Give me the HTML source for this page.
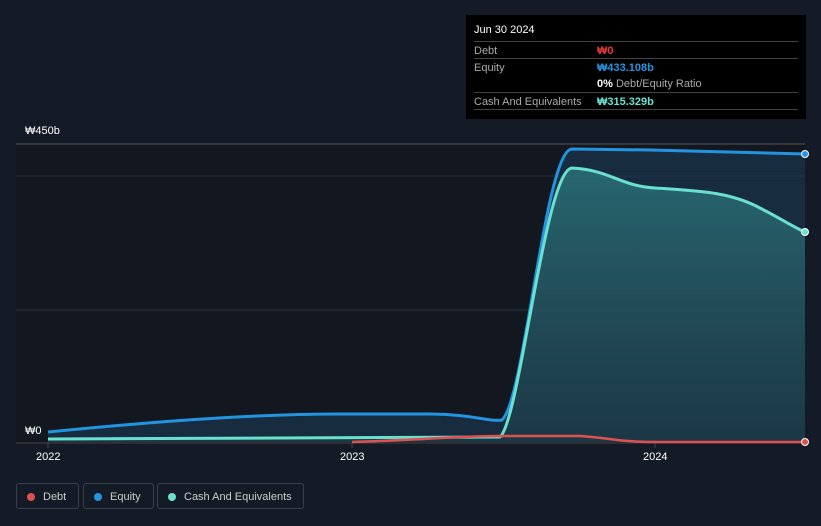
<!DOCTYPE html>
<html><head><meta charset="utf-8"><style>
body{margin:0;background:#151b26;width:821px;height:526px;overflow:hidden;font-family:"Liberation Sans","Noto Sans CJK KR",sans-serif;position:relative}
.tt{position:absolute;left:466px;top:15px;width:340px;height:104px;background:#000;color:#fff;font-size:11px}
.tt .r{position:absolute;left:8px;right:8px;border-top:1px solid #444;height:17px}
.lab{color:#aaa;position:absolute;left:0;top:3px}
.val{position:absolute;left:123px;top:3px;font-weight:bold}
.leg{position:absolute;top:483px;height:26px;border:1px solid #3a404a;border-radius:3px;color:#ccc;font-size:11px;line-height:26px;box-sizing:border-box;padding-left:26px}
.leg i{position:absolute;left:10px;top:9px;width:8px;height:8px;border-radius:50%}
.ax{position:absolute;color:#fff;font-size:11px}
</style></head><body>
<svg width="821" height="526" style="position:absolute;left:0;top:0">
<defs><linearGradient id="g" x1="0" y1="0" x2="0" y2="1"><stop offset="0" stop-color="#2d7a80" stop-opacity="0.75"/><stop offset="1" stop-color="#1f3f4a" stop-opacity="0.6"/></linearGradient></defs>
<rect x="16" y="144" width="789" height="299" fill="#131820"/>
<line x1="16" x2="805" y1="144" y2="144" stroke="#555" stroke-width="1"/>
<line x1="16" x2="805" y1="176" y2="176" stroke="#2a303a"/>
<line x1="16" x2="805" y1="310" y2="310" stroke="#2a303a"/>
<line x1="16" x2="805" y1="443" y2="443" stroke="#444"/>
<line x1="48" x2="48" y1="443" y2="448" stroke="#444"/>
<line x1="352" x2="352" y1="443" y2="448" stroke="#444"/>
<line x1="655" x2="655" y1="443" y2="448" stroke="#444"/>
<path d="M48,432 C150,422 250,414 340,414 L430,414 C470,414 490,422 502,420 C525,400 545,150 572,149 L650,150 L805,154 L805,442 L48,442Z" fill="#1b3a55" opacity="0.6"/>
<path d="M48,439 L500,437 C520,420 545,170 572,168 C610,170 620,186 655,188 C700,191 730,192 760,208 C780,218 795,228 805,232 L805,442 L48,442Z" fill="url(#g)"/>
<path d="M48,432 C150,422 250,414 340,414 L430,414 C470,414 490,422 502,420 C525,400 545,150 572,149 L650,150 L805,154" fill="none" stroke="#2394e0" stroke-width="3"/>
<path d="M48,439 L500,437 C520,420 545,170 572,168 C610,170 620,186 655,188 C700,191 730,192 760,208 C780,218 795,228 805,232" fill="none" stroke="#6ae0cf" stroke-width="3"/>
<path d="M352,442 C420,440 460,436 500,436 L580,436 C610,438 620,442 655,442 L805,442" fill="none" stroke="#e05252" stroke-width="2.5"/>
<circle cx="805" cy="154" r="3.5" fill="#2394e0" stroke="#fff" stroke-width="1"/>
<circle cx="805" cy="232" r="3.5" fill="#6ae0cf" stroke="#fff" stroke-width="1"/>
<circle cx="805" cy="442" r="3.5" fill="#e05252" stroke="#fff" stroke-width="1"/>
</svg>
<div class="ax" style="left:25px;top:125px">₩450b</div>
<div class="ax" style="left:25px;top:425px">₩0</div>
<div class="ax" style="left:36px;top:451px">2022</div>
<div class="ax" style="left:340px;top:451px">2023</div>
<div class="ax" style="left:643px;top:451px">2024</div>
<div class="tt">
<div style="position:absolute;left:8px;top:9px">Jun 30 2024</div>
<div class="r" style="top:26px"><span class="lab">Debt</span><span class="val" style="color:#e03a3a">₩0</span></div>
<div class="r" style="top:43px"><span class="lab">Equity</span><span class="val" style="color:#2394e0">₩433.108b</span></div>
<div style="position:absolute;left:131px;top:63px"><b>0%</b> <span style="color:#aaa">Debt/Equity Ratio</span></div>
<div class="r" style="top:77px"><span class="lab">Cash And Equivalents</span><span class="val" style="color:#6ae0cf">₩315.329b</span></div>
<div class="r" style="top:94px;border-top-color:#444"></div>
</div>
<div class="leg" style="left:16px;width:63px"><i style="background:#e05252"></i>Debt</div>
<div class="leg" style="left:83px;width:71px"><i style="background:#2394e0"></i>Equity</div>
<div class="leg" style="left:157px;width:147px"><i style="background:#6ae0cf"></i>Cash And Equivalents</div>
</body></html>
